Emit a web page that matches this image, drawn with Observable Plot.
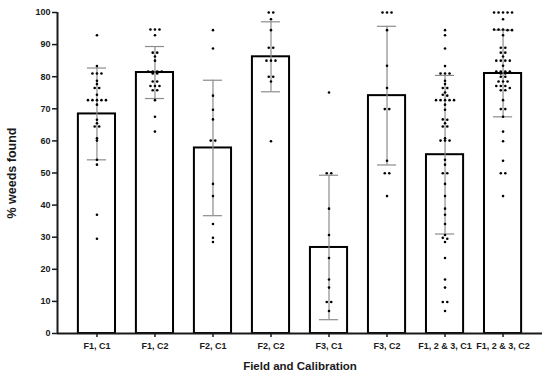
<!DOCTYPE html>
<html><head><meta charset="utf-8">
<script src="https://cdn.jsdelivr.net/npm/d3@7"></script>
<script src="https://cdn.jsdelivr.net/npm/@observablehq/plot@0.6"></script>
<style>body{margin:0;background:#fff}svg{display:block}</style>
</head><body><div id="chart"></div>
<script>
const categories = ["F1, C1", "F1, C2", "F2, C1", "F2, C2", "F3, C1", "F3, C2", "F1, 2 & 3, C1", "F1, 2 & 3, C2"];
const means = [68.4, 81.3, 57.8, 86.2, 26.8, 74.1, 55.7, 81.0];
const sds = [14.3, 8.1, 21.1, 10.9, 22.5, 21.6, 24.7, 13.5];
const yTicks = [0, 10, 20, 30, 40, 50, 60, 70, 80, 90, 100];

const f1c1 = [92.9, 83.3, 81.0, 81.0, 81.0, 78.7, 77.7, 76.5, 76.5, 74.4, 72.7, 72.7, 72.7, 72.7, 72.7, 71.3, 66.6, 65.5, 64.5, 64.5, 60.8, 60.1, 54.1, 52.6, 37.0, 29.5];
const f1c2 = [94.7, 94.7, 94.7, 92.9, 87.5, 87.5, 86.3, 85.0, 81.6, 81.6, 81.6, 81.6, 81.0, 81.0, 78.5, 78.5, 77.1, 77.1, 77.1, 75.8, 75.8, 72.7, 67.5, 62.9];
const f2c1 = [94.5, 88.8, 74.1, 69.7, 66.7, 60.1, 60.1, 46.6, 42.8, 34.1, 29.8, 28.5];
const f2c2 = [100, 100, 97.9, 94.5, 89.0, 89.0, 85.0, 85.0, 85.0, 80.0, 80.0, 78.5, 59.9];
const f3c1 = [75.1, 49.9, 49.9, 38.9, 30.7, 23.5, 16.8, 14.3, 9.8, 9.8, 7.0];
const f3c2 = [100, 100, 100, 94.5, 83.4, 76.5, 69.9, 69.9, 53.8, 49.9, 49.9, 42.8];
const f123c1 = [94.5, 92.9, 88.8, 83.3, 81.0, 81.0, 81.0, 78.7, 77.7, 76.5, 76.5, 75.1, 74.4, 74.1, 72.7, 72.7, 72.7, 72.7, 72.7, 71.3, 69.7, 66.7, 66.6, 65.5, 64.5, 64.5, 60.8, 60.1, 60.1, 60.1, 54.1, 52.6, 49.9, 49.9, 46.6, 42.8, 38.9, 37.0, 34.1, 30.7, 29.8, 29.5, 28.5, 23.5, 16.8, 14.3, 9.8, 9.8, 7.0];
const f123c2 = [100, 100, 100, 100, 100, 97.9, 94.7, 94.7, 94.7, 94.5, 94.5, 92.9, 89.0, 89.0, 87.5, 87.5, 86.3, 85.0, 85.0, 85.0, 85.0, 83.4, 81.6, 81.6, 81.6, 81.6, 81.0, 81.0, 80.0, 80.0, 78.5, 78.5, 78.5, 77.1, 77.1, 77.1, 76.5, 75.8, 75.8, 72.7, 69.9, 69.9, 67.5, 62.9, 59.9, 53.8, 49.9, 49.9, 42.8];

const groups = [f1c1, f1c2, f2c1, f2c2, f3c1, f3c2, f123c1, f123c2];
const xDomain = [-0.68, 7.68];
const pxPerUnit = 58;
const dotGap = 4.5 / pxPerUnit;

const bars = categories.map((c, i) => ({i, c, mean: means[i], sd: sds[i]}));
const points = [];
groups.forEach((vals, i) => {
  const rows = d3.group(vals, v => Math.round(v));
  for (const [, row] of rows) {
    row.forEach((v, j) => points.push({x: i + (j - (row.length - 1) / 2) * dotGap, y: v}));
  }
});

const ink = "#1a1a1a";
const errColor = "#8c8c8c";
const font = "'Liberation Sans', Arial, Helvetica, sans-serif";

const chart = Plot.plot({
  width: 550,
  height: 376,
  marginLeft: 57,
  marginRight: 8,
  marginTop: 12,
  marginBottom: 43,
  style: {fontFamily: font, background: "#fff", color: ink},
  x: {type: "linear", domain: xDomain},
  y: {domain: [0, 100]},
  marks: [
    Plot.rectY(bars, {x1: d => d.i - 0.32, x2: d => d.i + 0.32, y1: 0, y2: "mean", fill: "white", stroke: "black", strokeWidth: 2}),
    Plot.ruleX(bars, {x: "i", y1: d => d.mean - d.sd, y2: d => d.mean + d.sd, stroke: errColor, strokeWidth: 1.2}),
    Plot.ruleY(bars, {y: d => d.mean + d.sd, x1: d => d.i - 0.165, x2: d => d.i + 0.165, stroke: errColor, strokeWidth: 1.2}),
    Plot.ruleY(bars, {y: d => d.mean - d.sd, x1: d => d.i - 0.165, x2: d => d.i + 0.165, stroke: errColor, strokeWidth: 1.2}),
    Plot.dot(points, {x: "x", y: "y", r: 1.3, fill: "black", stroke: "none"}),
    Plot.ruleY([0], {stroke: ink, strokeWidth: 2}),
    Plot.ruleX([xDomain[0]], {y1: 0, y2: 100, stroke: ink, strokeWidth: 2}),
    Plot.axisY({ticks: yTicks, tickSize: 5, tickPadding: 2, fontSize: 9, fontWeight: "bold", stroke: ink, strokeWidth: 1.5, label: null}),
    Plot.axisX({ticks: d3.range(categories.length), tickFormat: i => categories[i], tickSize: 4, tickPadding: 5, fontSize: 9, fontWeight: "bold", stroke: ink, strokeWidth: 1.5, label: null}),
    Plot.text(["% weeds found"], {frameAnchor: "left", dx: -46, rotate: -90, textAnchor: "middle", lineAnchor: "middle", fontSize: 12.5, fontWeight: "bold", fill: ink}),
    Plot.text(["Field and Calibration"], {frameAnchor: "bottom", dy: 33, textAnchor: "middle", lineAnchor: "middle", fontSize: 11.5, fontWeight: "bold", fill: ink})
  ]
});
document.getElementById("chart").append(chart);
</script>
</body></html>
